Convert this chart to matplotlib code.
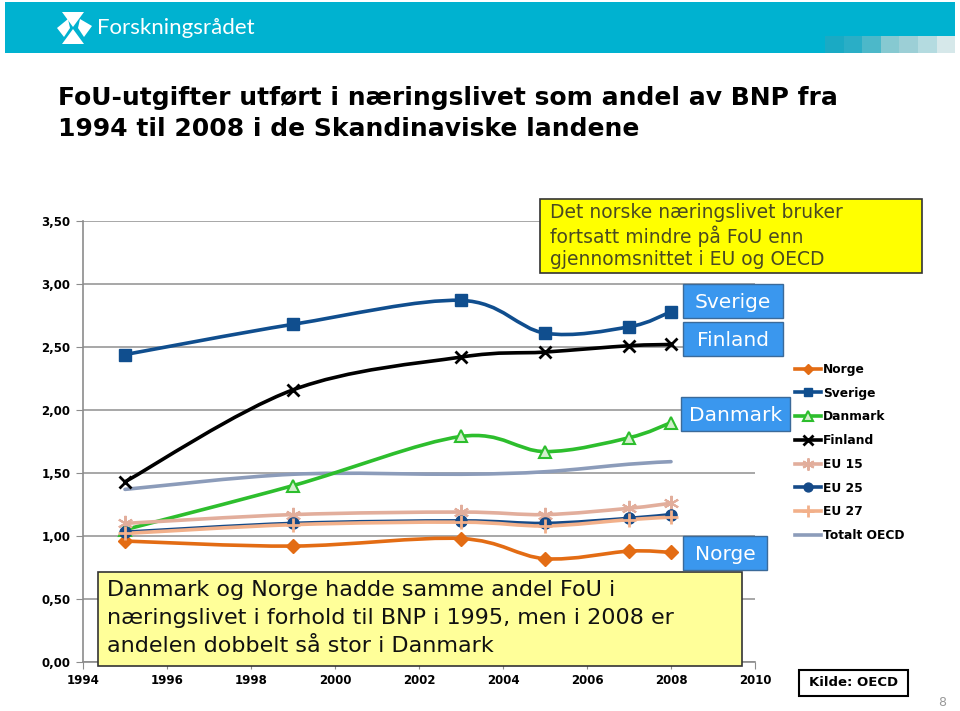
import matplotlib
matplotlib.use("Agg")
import matplotlib.pyplot as plt
from matplotlib.path import Path
from matplotlib.patches import PathPatch, Rectangle, Polygon
from matplotlib.lines import Line2D

# Data (FoU i næringslivet som andel av BNP)
years = [1995, 1999, 2003, 2005, 2007, 2008]
norge = [0.96, 0.92, 0.98, 0.82, 0.88, 0.87]
sverige = [2.44, 2.68, 2.87, 2.61, 2.66, 2.78]
danmark = [1.05, 1.40, 1.79, 1.67, 1.78, 1.90]
finland = [1.43, 2.16, 2.42, 2.46, 2.51, 2.52]
eu15 = [1.10, 1.17, 1.19, 1.17, 1.22, 1.26]
eu25 = [1.03, 1.10, 1.12, 1.10, 1.14, 1.17]
eu27 = [1.02, 1.09, 1.11, 1.08, 1.13, 1.15]
oecd = [1.37, 1.49, 1.49, 1.51, 1.57, 1.59]

xticks = [1994, 1996, 1998, 2000, 2002, 2004, 2006, 2008, 2010]
yticks = [0.0, 0.5, 1.0, 1.5, 2.0, 2.5, 3.0, 3.5]
ytick_labels = ['0,00', '0,50', '1,00', '1,50', '2,00', '2,50', '3,00', '3,50']

W, H = 960, 711
fig = plt.figure(figsize=(W / 100, H / 100), dpi=100)


def fx(x):
    return x / W


def fy(y):
    return 1 - y / H


def box(x0, y0, x1, y1, fc, ec, lw=1.0):
    r = Rectangle((fx(x0), fy(y1)), fx(x1) - fx(x0), fy(y0) - fy(y1),
                  transform=fig.transFigure, fc=fc, ec=ec, lw=lw, zorder=5)
    fig.add_artist(r)


# header band
box(5, 2, 955, 53, '#00B2D0', 'none')
shades = ['#1aaac4', '#2aaec6', '#4cb8c9', '#86c9d1', '#9ccfd6', '#b4dbe0', '#d6e8ea']
for i, c in enumerate(shades):
    box(825 + i * 18.6, 36, 825 + (i + 1) * 18.6, 53, c, 'none')

# enkel logo
fig.add_artist(Polygon([(fx(62), fy(12)), (fx(84), fy(12)), (fx(73), fy(27))],
                       transform=fig.transFigure, fc='white', ec='none', zorder=6))
fig.add_artist(Polygon([(fx(62), fy(44)), (fx(84), fy(44)), (fx(73), fy(29))],
                       transform=fig.transFigure, fc='white', ec='none', zorder=6))
fig.add_artist(Polygon([(fx(68), fy(19)), (fx(57), fy(28)), (fx(64), fy(37)), (fx(70), fy(28))],
                       transform=fig.transFigure, fc='white', ec='none', zorder=6))
fig.add_artist(Polygon([(fx(80), fy(19)), (fx(92), fy(26)), (fx(84), fy(37)), (fx(78), fy(28))],
                       transform=fig.transFigure, fc='white', ec='none', zorder=6))
fig.text(fx(97), fy(28), 'Forskningsrådet', color='white', fontsize=16,
         family='Lato', va='center', ha='left', zorder=6)

# tittel
fig.text(fx(58), fy(98), 'FoU-utgifter utført i næringslivet som andel av BNP fra',
         fontsize=18, fontweight='bold', family='DejaVu Sans', va='center')
fig.text(fx(58), fy(129), '1994 til 2008 i de Skandinaviske landene',
         fontsize=18, fontweight='bold', family='DejaVu Sans', va='center')

# akser
ax = fig.add_axes([fx(83), fy(662), fx(755) - fx(83), fy(221) - fy(662)])
ax.set_xlim(1994, 2010)
ax.set_ylim(0, 3.5)
ax.set_xticks(xticks)
ax.set_xticklabels([str(t) for t in xticks])
ax.set_yticks(yticks)
ax.set_yticklabels(ytick_labels)
for lab in ax.get_xticklabels() + ax.get_yticklabels():
    lab.set_fontweight('bold')
    lab.set_fontsize(8.5)
ax.tick_params(axis='both', direction='out', length=5, color='#8c8c8c', pad=4)
ax.grid(axis='y', color='#a0a0a0', lw=1.3)
ax.set_axisbelow(True)
for s in ['top', 'right']:
    ax.spines[s].set_visible(False)
for s in ['left', 'bottom']:
    ax.spines[s].set_color('#8c8c8c')
    ax.spines[s].set_linewidth(1.2)


def smooth_path(xs, ys):
    # glattet linje som i Excel (Bezier mellom punktene)
    pts = list(zip(xs, ys))
    verts = [pts[0]]
    codes = [Path.MOVETO]
    n = len(pts)
    for i in range(n - 1):
        p0 = pts[i - 1] if i > 0 else pts[i]
        p1 = pts[i]
        p2 = pts[i + 1]
        p3 = pts[i + 2] if i + 2 < n else pts[i + 1]
        c1 = (p1[0] + (p2[0] - p0[0]) / 6, p1[1] + (p2[1] - p0[1]) / 6)
        c2 = (p2[0] - (p3[0] - p1[0]) / 6, p2[1] - (p3[1] - p1[1]) / 6)
        verts += [c1, c2, p2]
        codes += [Path.CURVE4] * 3
    return Path(verts, codes)


series = [
    ('Norge', norge, '#E36C14', 'D', 7, '#E36C14', '#E36C14', 1, 3),
    ('Sverige', sverige, '#104E8E', 's', 8, '#104E8E', '#104E8E', 1, 3),
    ('Danmark', danmark, '#2DBE2D', '^', 9, '#d4efcd', '#2DBE2D', 1.5, 3),
    ('Finland', finland, '#000000', 'x', 9, '#000000', '#000000', 2, 3),
    ('EU 15', eu15, '#E2AE9C', (6, 2, 0), 11, '#E2AE9C', '#E2AE9C', 1.5, 3),
    ('EU 25', eu25, '#154A88', 'o', 8, '#154A88', '#154A88', 1, 3),
    ('EU 27', eu27, '#F2B08A', '+', 10, '#F2B08A', '#F2B08A', 2, 3),
    ('Totalt OECD', oecd, '#8C9CBA', None, 0, 'none', 'none', 1, 2),
]

handles = []
for name, vals, col, mk, ms, mfc, mec, mew, z in series:
    ax.add_patch(PathPatch(smooth_path(years, vals), fc='none', ec=col, lw=2.6,
                           zorder=z, capstyle='round'))
    if mk is not None:
        ax.plot(years, vals, ls='none', marker=mk, ms=ms, mfc=mfc, mec=mec,
                mew=mew, zorder=z + 0.5, clip_on=False)
    handles.append(Line2D([], [], color=col, lw=2.6, marker=mk, ms=ms * 0.8,
                          mfc=mfc, mec=mec, mew=mew))

leg = fig.legend(handles, [s[0] for s in series], loc='upper left',
                 bbox_to_anchor=(fx(790), fy(358)), frameon=False,
                 prop={'weight': 'bold', 'size': 8.8}, handlelength=2.1,
                 handletextpad=0.2, labelspacing=0.88, borderaxespad=0)

# tekstbokser
box(540, 199, 922, 273, '#FFFF00', '#333333', 1.2)
fig.text(fx(550), fy(236), 'Det norske næringslivet bruker\nfortsatt mindre på FoU enn\ngjennomsnittet i EU og OECD',
         fontsize=13.5, color='#4a4a22', va='center', ha='left', linespacing=1.18, zorder=6)

box(98, 572, 742, 666, '#FFFF99', '#333333', 1.2)
fig.text(fx(107), fy(618), 'Danmark og Norge hadde samme andel FoU i\nnæringslivet i forhold til BNP i 1995, men i 2008 er\nandelen dobbelt så stor i Danmark',
         fontsize=16, color='#111111', va='center', ha='left', linespacing=1.52, zorder=6)

for label, x0, y0, x1, y1 in [('Sverige', 683, 284, 783, 318), ('Finland', 683, 322, 783, 356),
                               ('Danmark', 681, 397, 790, 431), ('Norge', 683, 536, 767, 570)]:
    box(x0, y0, x1, y1, '#3A97EE', '#3b6a99', 1.0)
    fig.text(fx((x0 + x1) / 2), fy((y0 + y1) / 2 + 1), label, fontsize=14.5, color='white',
             va='center', ha='center', zorder=6)

box(799, 670, 908, 696, 'white', 'black', 1.5)
fig.text(fx(853.5), fy(683), 'Kilde: OECD', fontsize=9.5, fontweight='bold',
         va='center', ha='center', zorder=6)
fig.text(fx(942), fy(703), '8', fontsize=9, color='#999999', va='center', ha='center')

fig.savefig('out.png', dpi=100)
